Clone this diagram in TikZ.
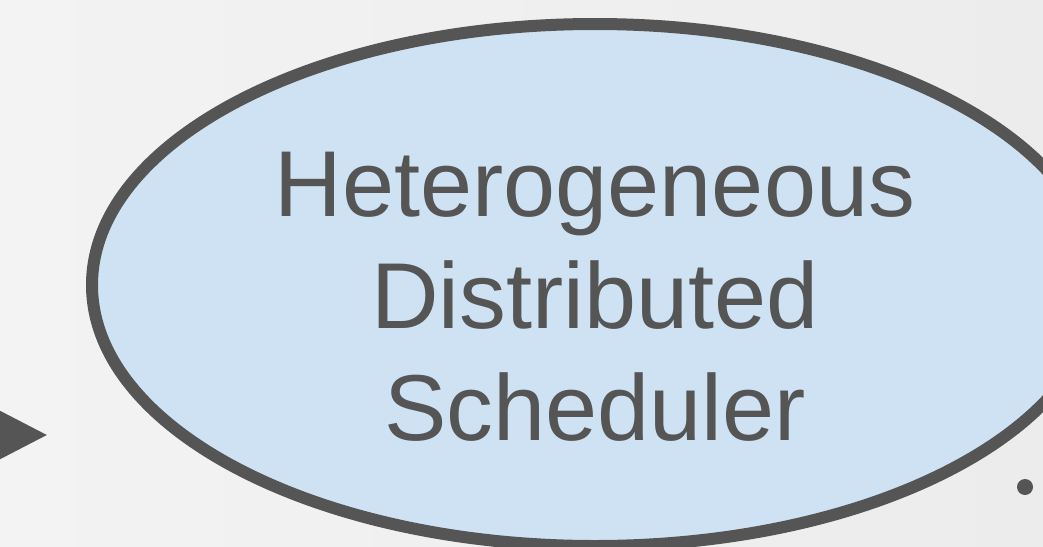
\documentclass[tikz,border=0pt]{standalone}
\usepackage{fontspec}
\setmainfont{Liberation Sans}
\usetikzlibrary{shapes.geometric,arrows.meta}
\definecolor{inkgray}{HTML}{555555}
\definecolor{schedblue}{HTML}{CFE2F3}
\definecolor{bgleft}{HTML}{F3F3F3}
\definecolor{bgright}{HTML}{ECECEC}

\begin{document}
\begin{tikzpicture}[x=1pt, y=-1pt,
	schedbox/.style={ellipse, draw=inkgray, fill=schedblue, line width=12pt, minimum width=1006pt, minimum height=522pt, inner sep=0pt},
	schedlabel/.style={align=center, text=inkgray, inner sep=0pt, font=\fontsize{93.6}{112}\selectfont},
	flow/.style={draw=inkgray, line width=6pt, -{Triangle[length=50pt, width=50pt]}}]
	\useasboundingbox (0,0) rectangle (1043,546);
	\clip (0,0) rectangle (1043,546);
	\fill[left color=bgleft, right color=bgright] (0,0) rectangle (1043,546);
	% scheduler
	\node[schedbox] (sched) at (595,285) {};
	\node[schedlabel] (schedtext) at ([yshift=-11.5pt]sched.center) {Heterogeneous\\Distributed\\Scheduler};
	% incoming arrow, its tail lies off the picture
	\coordinate (src) at (-120,435);
	\coordinate (dst) at (47,435);
	\draw[flow] (src) -- (dst);
	\fill[inkgray] (1025,487) circle (8pt);
\end{tikzpicture}
\end{document}
